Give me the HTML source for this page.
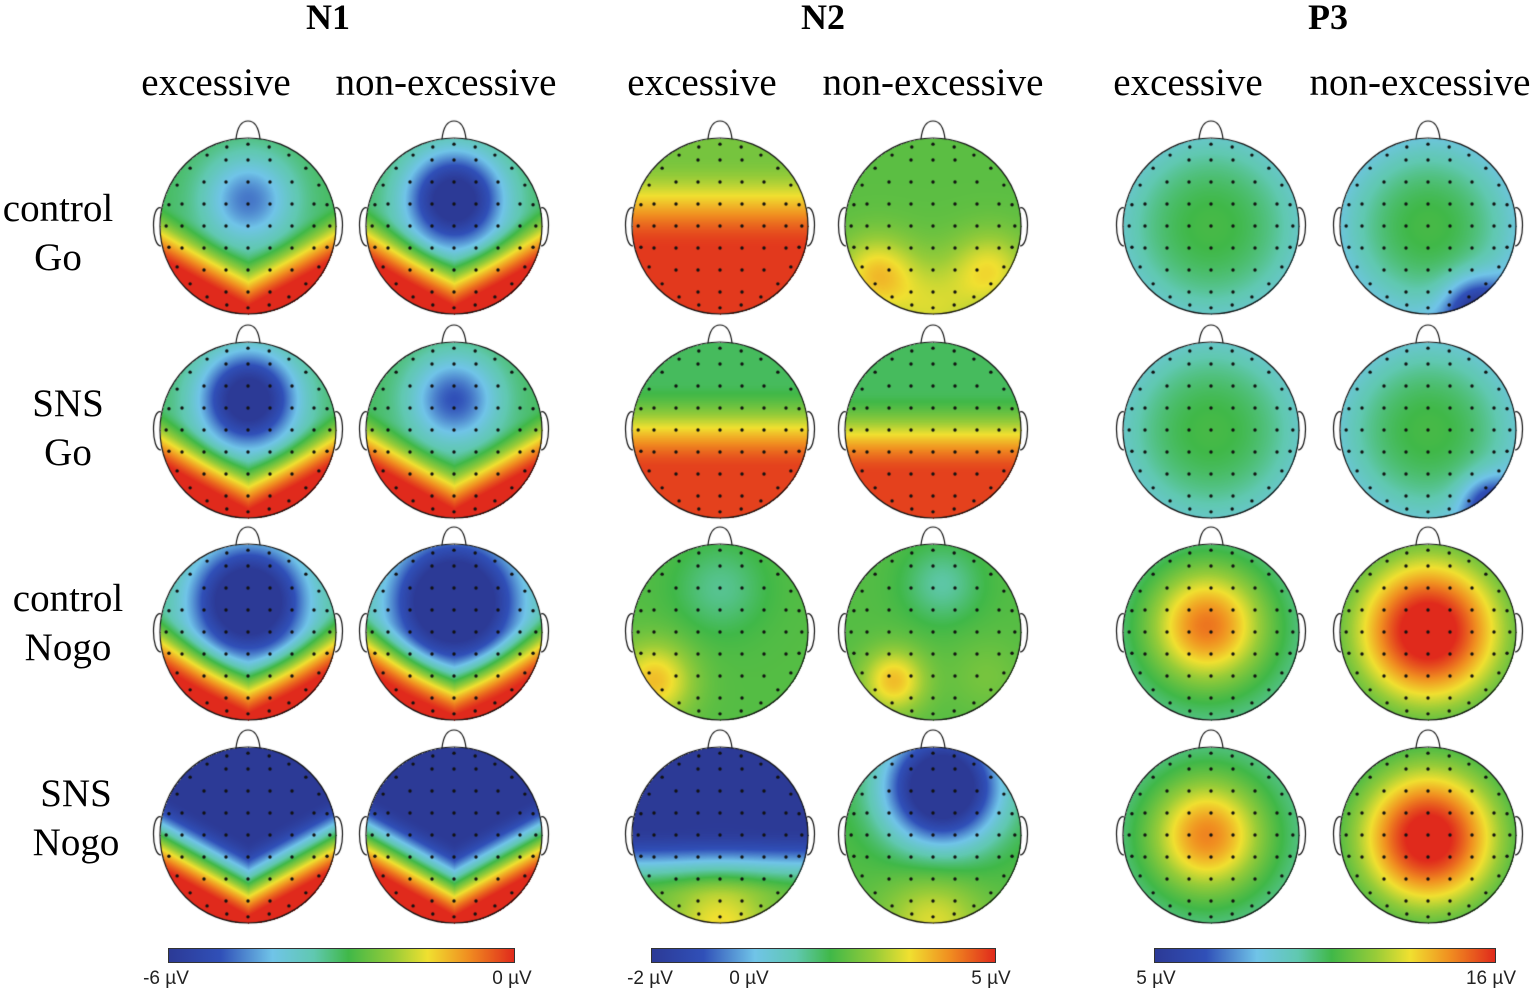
<!DOCTYPE html>
<html><head><meta charset="utf-8">
<style>
body{margin:0;background:#fff;}
#wrap{position:relative;width:1536px;height:995px;overflow:hidden;background:#fff;}
canvas{position:absolute;left:0;top:0;}
.t{position:absolute;font-family:"Liberation Serif",serif;color:#000;white-space:nowrap;transform:translateX(-50%);}
.h{font-weight:bold;font-size:36px;top:-4px;}
.s{font-size:39px;top:60px;}
.r{font-size:39px;line-height:49px;text-align:center;}
.cb{position:absolute;height:13px;top:948px;border:1px solid #333;background:linear-gradient(to right,#2c3a96 0%,#3050b8 15%,#70c4e8 30%,#60c8b0 42%,#40b848 52%,#98cc38 65%,#f0e030 75%,#f08c20 87%,#e02a1c 100%);}
.cl{position:absolute;top:968px;font-family:"Liberation Sans",sans-serif;font-size:19px;color:#222;transform:translateX(-50%);white-space:nowrap;}
</style></head><body>
<div id="wrap">
<canvas id="cv" width="1536" height="995"></canvas>
<div class="t h" style="left:328px">N1</div>
<div class="t h" style="left:823px">N2</div>
<div class="t h" style="left:1328px">P3</div>
<div class="t s" style="left:216px">excessive</div>
<div class="t s" style="left:446px">non-excessive</div>
<div class="t s" style="left:702px">excessive</div>
<div class="t s" style="left:933px">non-excessive</div>
<div class="t s" style="left:1188px">excessive</div>
<div class="t s" style="left:1420px">non-excessive</div>
<div class="t r" style="left:58px;top:184px">control<br>Go</div>
<div class="t r" style="left:68px;top:379px">SNS<br>Go</div>
<div class="t r" style="left:68px;top:574px">control<br>Nogo</div>
<div class="t r" style="left:76px;top:769px">SNS<br>Nogo</div>
<div class="cb" style="left:168px;width:345px"></div>
<div class="cb" style="left:651px;width:343px"></div>
<div class="cb" style="left:1154px;width:340px"></div>
<div class="cl" style="left:166px">-6 µV</div>
<div class="cl" style="left:512px">0 µV</div>
<div class="cl" style="left:650px">-2 µV</div>
<div class="cl" style="left:749px">0 µV</div>
<div class="cl" style="left:991px">5 µV</div>
<div class="cl" style="left:1156px">5 µV</div>
<div class="cl" style="left:1491px">16 µV</div>
</div>
<script>
// column x centers, row y centers
const colCenters=[248,454,720,933,1211,1428];
const rowCenters=[226,430,632,835];
// per-map data, indexed [row*6+col]
const mapBase=[
0.5,0.5,0.6,0.56,0.53,0.53,
0.5,0.5,0.5,0.5,0.53,0.53,
0.5,0.5,0.55,0.55,0.48,0.48,
0.0,0.0,0.0,0.55,0.48,0.48];
const mapRamp=[
[0.55,0.25,1.05,0.55],[0.55,0.25,1.05,0.55],[0,-0.8,0.25,0.38],null,null,null,
[0.55,0.25,1.05,0.55],[0.55,0.25,1.05,0.55],[0,-0.55,0.45,0.47],[0,-0.45,0.5,0.47],null,null,
[0.55,0.25,1.05,0.55],[0.55,0.25,1.05,0.55],null,null,null,null,
[0.55,0.05,1.05,1.05],[0.55,0.05,1.05,1.05],[0,-0.1,0.7,0.56],null,null,null];
const mapEdge=[
0,0,0,0,-0.16,-0.2,
0,0,0,0,-0.16,-0.18,
0,0,0,0,-0.04,-0.04,
0,0,0,0,-0.04,-0.04];
const mapBlobs=[
[[0,-0.3,0.35,-0.3]],[[0,-0.3,0.38,-0.6]],[],[[-0.65,0.55,0.3,0.22],[0.65,0.5,0.3,0.18],[0,0.95,0.4,0.15]],[],[[0.55,0.95,0.25,-0.35]],
[[0,-0.35,0.38,-0.6]],[[0,-0.35,0.35,-0.35]],[],[],[],[[0.7,0.85,0.22,-0.3]],
[[0,-0.35,0.45,-0.7]],[[0,-0.35,0.5,-0.75]],[[0,-0.5,0.35,-0.1],[-0.75,0.55,0.3,0.25]],[[0.1,-0.55,0.3,-0.12],[-0.45,0.55,0.25,0.25],[0.6,0.5,0.3,0.05]],[[-0.05,-0.08,0.46,0.42]],[[0,-0.02,0.6,0.6]],
[],[],[[0,1.05,0.4,0.2]],[[0.1,-0.55,0.45,-0.75],[0,1.0,0.4,0.18]],[[-0.05,0,0.45,0.4]],[[0,0.03,0.56,0.58]]];
const stops=[[0,[44,58,150]],[0.15,[48,80,184]],[0.3,[112,196,232]],[0.42,[96,200,176]],[0.52,[64,184,72]],[0.65,[152,204,56]],[0.75,[240,224,48]],[0.87,[240,140,32]],[1,[224,42,28]]];
function cmap(v){v=Math.max(0,Math.min(1,v));for(let i=1;i<stops.length;i++){if(v<=stops[i][0]){const a=stops[i-1],b=stops[i];const t=(v-a[0])/(b[0]-a[0]);return [0,1,2].map(k=>a[1][k]+(b[1][k]-a[1][k])*t);}}return stops[stops.length-1][1];}
function ss(a,b,x){let t=(x-a)/(b-a);t=Math.max(0,Math.min(1,t));return t*t*(3-2*t);}
const R=88;
const cv=document.getElementById('cv');const ctx=cv.getContext('2d');
const img=ctx.createImageData(1536,995);
for(let m=0;m<24;m++){
 const cx=colCenters[m%6],cy=rowCenters[Math.floor(m/6)];
 for(let py=cy-R;py<=cy+R;py++)for(let px=cx-R;px<=cx+R;px++){
  const x=(px-cx)/R,y=(py-cy)/R,r2=x*x+y*y;if(r2>1)continue;
  let v=mapBase[m]+mapEdge[m]*r2;
  const rp=mapRamp[m];if(rp){v+=rp[3]*ss(rp[1],rp[2],y+rp[0]*Math.abs(x));}
  for(const b of mapBlobs[m]){v+=b[3]*Math.exp(-((x-b[0])**2+(y-b[1])**2)/(2*b[2]*b[2]));}
  const c=cmap(v);const i=(py*1536+px)*4;img.data[i]=c[0];img.data[i+1]=c[1];img.data[i+2]=c[2];img.data[i+3]=255;
 }
}
ctx.putImageData(img,0,0);
// electrode positions (normalized)
const elec=[];
for(let gy=-3;gy<=3;gy++)for(let gx=-3;gx<=3;gx++){const x=gx*0.25,y=gy*0.25;if(x*x+y*y<0.72)elec.push([x,y]);}
for(let k=0;k<24;k++){const a=k/24*2*Math.PI;elec.push([0.93*Math.cos(a),0.93*Math.sin(a)]);}
ctx.strokeStyle='#111';ctx.lineWidth=1.2;
for(let m=0;m<24;m++){
 const cx=colCenters[m%6],cy=rowCenters[Math.floor(m/6)];
 ctx.beginPath();ctx.arc(cx,cy,R,0,2*Math.PI);ctx.stroke();
 ctx.beginPath();ctx.moveTo(cx-12,cy-R+1);ctx.quadraticCurveTo(cx-10,cy-R-17,cx,cy-R-17);ctx.quadraticCurveTo(cx+10,cy-R-17,cx+12,cy-R+1);ctx.stroke();
 for(const s of [-1,1]){ctx.beginPath();ctx.moveTo(cx+s*(R-1),cy-18);ctx.bezierCurveTo(cx+s*(R+9),cy-22,cx+s*(R+9),cy+20,cx+s*(R-1),cy+20);ctx.stroke();}
 ctx.fillStyle='#111';
 for(const e of elec){ctx.beginPath();ctx.arc(cx+e[0]*R,cy+e[1]*R,1.7,0,2*Math.PI);ctx.fill();}
}
</script>
</body></html>
